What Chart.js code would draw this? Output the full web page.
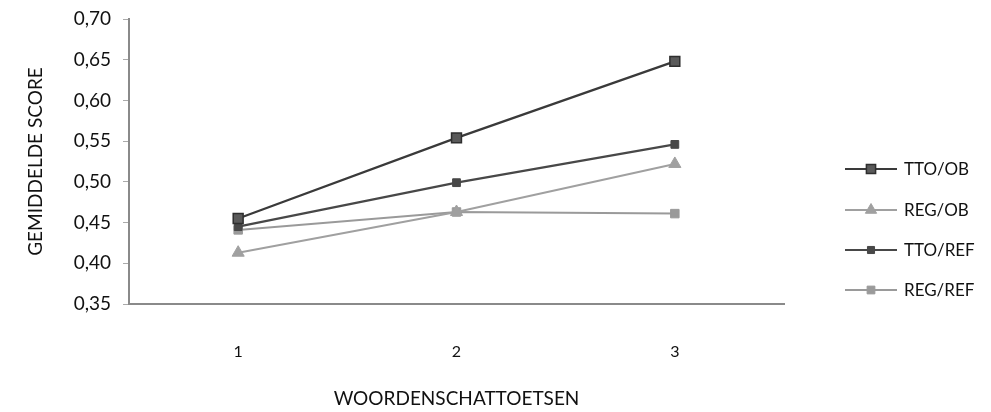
<!DOCTYPE html>
<html><head><meta charset="utf-8">
<script src="https://cdn.jsdelivr.net/npm/chart.js@4/dist/chart.umd.min.js"></script>
<style>html,body{margin:0;padding:0;background:#fff}#wrap{width:991px;height:412px}</style>
</head><body><div id="wrap"><canvas id="c" width="991" height="412"></canvas></div>
<script>
const categories = ['1', '2', '3'];
const seriesNames = ['TTO/OB', 'REG/OB', 'TTO/REF', 'REG/REF'];
const ttoOb = [0.455, 0.554, 0.648];
const regOb = [0.413, 0.463, 0.522];
const ttoRef = [0.445, 0.499, 0.546];
const regRef = [0.441, 0.463, 0.461];
const yTicks = [0.35, 0.40, 0.45, 0.50, 0.55, 0.60, 0.65, 0.70];

const FONT = 'Lato, "Open Sans", sans-serif';

const legendPlugin = {
  id: 'sideLegend',
  afterDraw(chart) {
    const ctx = chart.ctx;
    const x0 = 845, x1 = 897, tx = 904;
    const ys = [169, 210, 250, 290];
    chart.data.datasets.forEach((ds, i) => {
      const y = ys[i];
      ctx.save();
      ctx.strokeStyle = ds.borderColor;
      ctx.lineWidth = 2;
      ctx.beginPath(); ctx.moveTo(x0, y); ctx.lineTo(x1, y); ctx.stroke();
      ctx.restore();
      ctx.save();
      ctx.fillStyle = ds.pointBackgroundColor;
      ctx.strokeStyle = ds.pointBorderColor;
      ctx.lineWidth = ds.pointBorderWidth || 1;
      Chart.helpers.drawPoint(ctx, {pointStyle: ds.pointStyle, radius: ds.pointRadius - 0.5, borderWidth: ds.pointBorderWidth || 1}, (x0 + x1) / 2, y);
      ctx.restore();
      ctx.save();
      ctx.fillStyle = '#111';
      ctx.font = '17px ' + FONT;
      ctx.textBaseline = 'middle';
      ctx.textAlign = 'left';
      ctx.fillText(ds.label, tx, y + 1);
      ctx.restore();
    });
  }
};

new Chart(document.getElementById('c'), {
  type: 'line',
  data: {
    labels: categories,
    datasets: [
      {label: seriesNames[0], data: ttoOb, borderColor: '#3a3a3a', backgroundColor: '#5a5a5a',
       pointBackgroundColor: '#5a5a5a', pointBorderColor: '#2e2e2e', pointBorderWidth: 1.5,
       pointStyle: 'rect', pointRadius: 7, borderWidth: 2.2},
      {label: seriesNames[1], data: regOb, borderColor: '#a0a0a0', backgroundColor: '#a0a0a0',
       pointBackgroundColor: '#a0a0a0', pointBorderColor: '#a0a0a0', pointBorderWidth: 1,
       pointStyle: 'triangle', pointRadius: 7, borderWidth: 2},
      {label: seriesNames[2], data: ttoRef, borderColor: '#484848', backgroundColor: '#484848',
       pointBackgroundColor: '#484848', pointBorderColor: '#484848', pointBorderWidth: 1,
       pointStyle: 'rect', pointRadius: 5.5, borderWidth: 2.2},
      {label: seriesNames[3], data: regRef, borderColor: '#9a9a9a', backgroundColor: '#9a9a9a',
       pointBackgroundColor: '#9a9a9a', pointBorderColor: '#9a9a9a', pointBorderWidth: 1,
       pointStyle: 'rect', pointRadius: 6, borderWidth: 2}
    ]
  },
  options: {
    responsive: false,
    animation: false,
    layout: {padding: {top: 19, right: 207, bottom: 0, left: 0}},
    plugins: {legend: {display: false}, tooltip: {enabled: false}},
    elements: {line: {tension: 0}},
    scales: {
      x: {
        offset: true,
        grid: {display: false, drawTicks: false, offset: true},
        border: {display: true, color: '#8a8a8a', width: 2},
        ticks: {color: '#111', font: {family: FONT, size: 16}, padding: 38},
        title: {display: true, text: 'WOORDENSCHATTOETSEN', color: '#111',
                font: {family: FONT, size: 19}, padding: {top: 30, bottom: 2}},
        afterFit(s) { s.height = 108; }
      },
      y: {
        min: 0.35, max: 0.70,
        afterBuildTicks(s) { s.ticks = yTicks.map(v => ({value: v})); },
        grid: {display: true, drawOnChartArea: false, drawTicks: true, tickLength: 6, color: '#aaa', lineWidth: 1},
        border: {display: true, color: '#8a8a8a', width: 2},
        ticks: {color: '#111', font: {family: FONT, size: 19}, padding: 12,
                callback: v => v.toFixed(2).replace('.', ',')},
        title: {display: true, text: 'GEMIDDELDE SCORE', color: '#111',
                font: {family: FONT, size: 19}, padding: {top: 24, bottom: 20}},
        afterFit(s) { s.width = 129; s.paddingTop = 0; s.paddingBottom = 0; }
      }
    }
  },
  plugins: [legendPlugin]
});
</script></body></html>
